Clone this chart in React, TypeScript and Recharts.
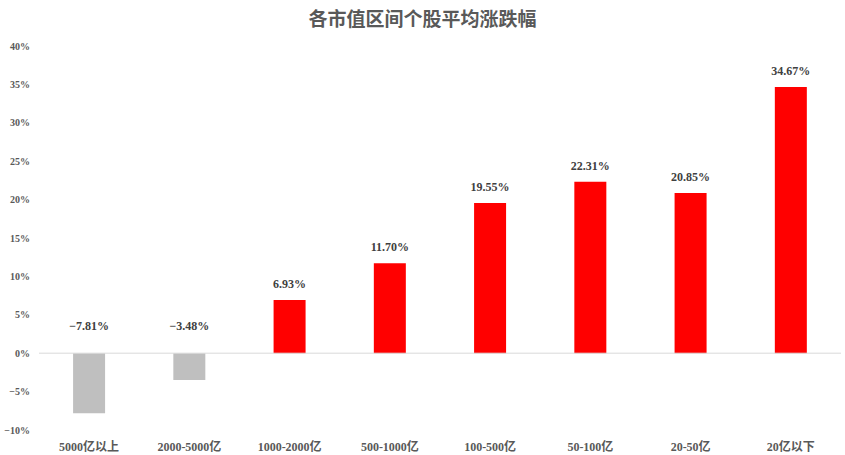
import React from "react";
import { BarChart, Bar, XAxis, YAxis, Cell, ReferenceLine, LabelList } from "recharts";

const categories = ["5000亿以上", "2000-5000亿", "1000-2000亿", "500-1000亿", "100-500亿", "50-100亿", "20-50亿", "20亿以下"];
const values = [-7.81, -3.48, 6.93, 11.7, 19.55, 22.31, 20.85, 34.67];
const yTicks = [-10, -5, 0, 5, 10, 15, 20, 25, 30, 35, 40];

const data = categories.map((c, i) => ({ name: c, value: values[i] }));

const FONT = "'Liberation Serif', 'Noto Sans CJK SC', serif";

const fmtPct = (v: number) => (v < 0 ? "\u2212" : "") + Math.abs(v) + "%";

const renderLabel = (props: any) => {
  const { x, y, width, height, value } = props;
  const top = Math.min(y, y + height);
  const cx = x + width / 2;
  const ty = value < 0 ? top - 23 : top - 12;
  const txt = (value < 0 ? "\u2212" : "") + Math.abs(value).toFixed(2) + "%";
  return (
    <text x={cx} y={ty} textAnchor="middle" fontSize={12} fontWeight="bold" fill="#404040" fontFamily={FONT}>
      {txt}
    </text>
  );
};

export default function App() {
  return (
    <div style={{ position: "absolute", left: 0, top: 0, width: 845, height: 455, background: "#fff" }}>
      <div style={{ position: "absolute", left: 0, top: 4, width: 845, textAlign: "center", fontSize: 19, fontWeight: "bold", color: "#595959", fontFamily: "'Noto Sans CJK SC', serif", lineHeight: "28px" }}>
        各市值区间个股平均涨跌幅
      </div>
      <BarChart width={845} height={455} data={data} margin={{ top: 46, right: 4, bottom: 5, left: 0 }} barCategoryGap="34%">
        <XAxis
          dataKey="name"
          height={20}
          axisLine={false}
          tickLine={false}
          interval={0}
          tick={{ fontSize: 12, fontWeight: "bold", fill: "#595959", fontFamily: FONT }}
          tickMargin={6}
        />
        <YAxis
          width={39}
          domain={[-10, 40]}
          ticks={yTicks}
          interval={0}
          axisLine={false}
          tickLine={false}
          tickSize={0}
          tickMargin={9}
          tickFormatter={fmtPct}
          tick={{ fontSize: 10, fontWeight: "bold", fill: "#595959", fontFamily: FONT }}
        />
        <ReferenceLine y={0} stroke="#d9d9d9" strokeWidth={1} />
        <Bar dataKey="value" isAnimationActive={false}>
          {data.map((d, i) => (
            <Cell key={i} fill={d.value < 0 ? "#BFBFBF" : "#FF0000"} />
          ))}
          <LabelList dataKey="value" content={renderLabel} />
        </Bar>
      </BarChart>
    </div>
  );
}
